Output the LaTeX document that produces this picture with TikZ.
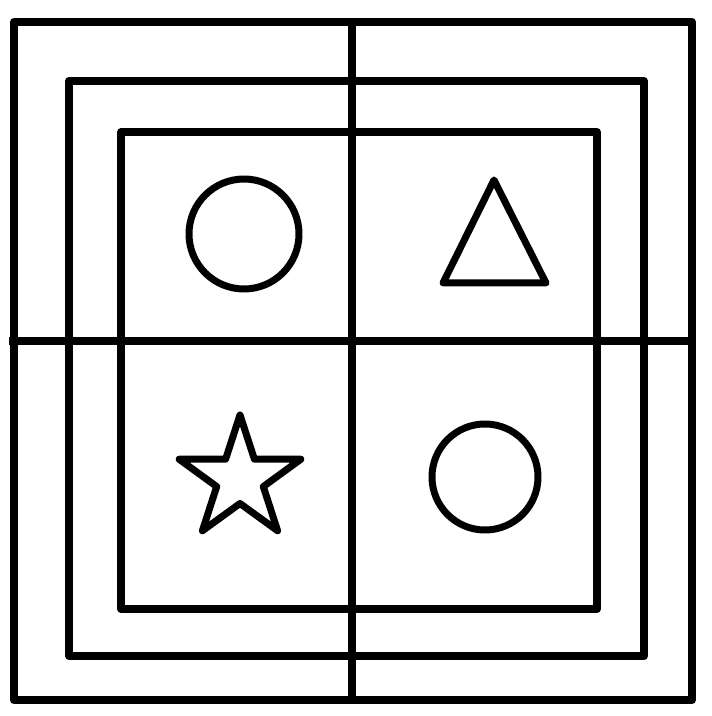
\documentclass[tikz,border=0pt]{standalone}
\tikzset{
  every picture/.style={line width=8pt, line join=round},
  frame/.style={draw=black},
  figure/.style={draw=black, line width=7pt},
}
\begin{document}
\begin{tikzpicture}[x=1pt, y=1pt]
  \useasboundingbox (0,0) rectangle (712,716);
  % nested frames
  \draw[frame] (14,16) rectangle (692,694);
  \draw[frame] (69,60) rectangle (644,635);
  \draw[frame] (121,107) rectangle (597,584);
  % cross
  \draw[frame] (352,16) -- (352,694);
  \draw[frame] (9,375) -- (695,375);
  % top left: circle
  \draw[figure] (244,482) circle (55);
  % top right: triangle
  \draw[figure] (494,536) -- (443,433) -- (546,433) -- cycle;
  % bottom left: star
  \begin{scope}[shift={(240,237)}]
    \draw[figure] (90:64) \foreach \k in {1,...,9} {
      -- ({90+36*\k}:{mod(\k,2)==1 ? 24.5 : 64})
    } -- cycle;
  \end{scope}
  % bottom right: circle
  \draw[figure] (485,239) circle (53);
\end{tikzpicture}
\end{document}
